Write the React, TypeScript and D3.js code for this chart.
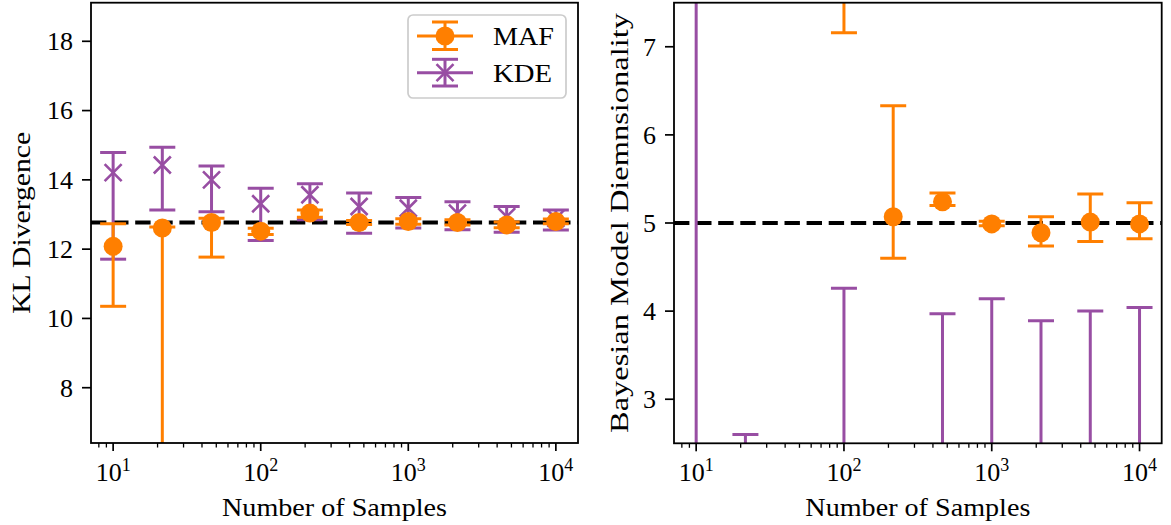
import React from "react";
import * as d3 from "d3";

// ---------- data ----------
const samples = [10, 21.54, 46.42, 100, 215.4, 464.2, 1000, 2154, 4642, 10000];

const klMafMean = [12.08, 12.61, 12.77, 12.52, 13.04, 12.77, 12.8, 12.77, 12.7, 12.8];
const klMafLo = [10.35, 5.0, 11.77, 12.42, 12.92, 12.71, 12.72, 12.7, 12.62, 12.73];
const klMafHi = [12.73, 12.64, 12.89, 12.6, 13.13, 12.83, 12.88, 12.85, 12.78, 12.87];

const klKdeMean = [14.21, 14.43, 14.0, 13.31, 13.57, 13.23, 13.18, 13.04, 12.94, 12.89];
const klKdeLo = [11.71, 13.13, 13.08, 12.25, 12.85, 12.46, 12.61, 12.56, 12.49, 12.55];
const klKdeHi = [14.79, 14.94, 14.4, 13.76, 13.89, 13.62, 13.49, 13.37, 13.23, 13.13];

const bmdMafMean = [9.0, 8.5, 8.2, 8.0, 5.07, 5.24, 4.99, 4.89, 5.01, 4.99];
const bmdMafLo = [8.2, 7.9, 7.8, 7.16, 4.6, 5.2, 4.97, 4.74, 4.79, 4.82];
const bmdMafHi = [9.8, 9.1, 8.6, 8.9, 6.33, 5.34, 5.02, 5.07, 5.33, 5.23];

const bmdKdeMean = [1.2, 1.5, 1.3, 1.6, 1.4, 1.7, 1.8, 1.6, 1.7, 1.8];
const bmdKdeLo = [-6.6, 0.4, 0.4, -1.06, 0.5, -0.57, -0.54, -0.69, -0.6, -0.44];
const bmdKdeHi = [9.0, 2.6, 2.2, 4.26, 2.3, 3.97, 4.14, 3.89, 4.0, 4.04];

const klTicks = [8, 10, 12, 14, 16, 18];
const bmdTicks = [3, 4, 5, 6, 7];
const xMajorExps = [1, 2, 3, 4];

const klTrue = 12.77;
const bmdTrue = 5.0;

const seriesNames = ["MAF", "KDE"];

// ---------- style ----------
const ORANGE = "#ff7f00";
const PURPLE = "#984ea3";
const FONT = "'Liberation Serif', 'Times New Roman', serif";
const FS = 26;

type PanelProps = {
  id: string;
  left: number;
  right: number;
  top: number;
  bottom: number;
  yDomain: [number, number];
  yTicks: number[];
  yLabel: string;
  yLabelX: number;
  yLabelLen: number;
  mafMean: number[];
  mafLo: number[];
  mafHi: number[];
  kdeMean: number[];
  kdeLo: number[];
  kdeHi: number[];
  trueVal: number;
  legend?: boolean;
};

function Panel(p: PanelProps) {
  const x = d3.scaleLog().domain([Math.pow(10, 0.85), Math.pow(10, 4.15)]).range([p.left, p.right]);
  const y = d3.scaleLinear().domain(p.yDomain).range([p.bottom, p.top]);
  const [x0, x1] = x.domain();
  const minor: number[] = [];
  for (let e = 0; e <= 4; e++) {
    for (let m = 2; m <= 9; m++) {
      const v = m * Math.pow(10, e);
      if (v >= x0 && v <= x1) minor.push(v);
    }
  }
  const cap = 13;
  const clipId = `clip-${p.id}`;

  const errBars = (mean: number[], lo: number[], hi: number[], color: string, kind: "o" | "x") => (
    <g>
      {samples.map((s, i) => {
        const cx = x(s);
        return (
          <g key={i}>
            <line x1={cx} x2={cx} y1={y(lo[i])} y2={y(hi[i])} stroke={color} strokeWidth={3} />
            <line x1={cx - cap} x2={cx + cap} y1={y(lo[i])} y2={y(lo[i])} stroke={color} strokeWidth={3} />
            <line x1={cx - cap} x2={cx + cap} y1={y(hi[i])} y2={y(hi[i])} stroke={color} strokeWidth={3} />
            {kind === "o" ? (
              <circle cx={cx} cy={y(mean[i])} r={9.5} fill={color} />
            ) : (
              <path
                d={`M${cx - 8.5},${y(mean[i]) - 8.5}L${cx + 8.5},${y(mean[i]) + 8.5}M${cx - 8.5},${y(mean[i]) + 8.5}L${cx + 8.5},${y(mean[i]) - 8.5}`}
                stroke={color}
                strokeWidth={2.6}
                fill="none"
              />
            )}
          </g>
        );
      })}
    </g>
  );

  const yMid = (p.top + p.bottom) / 2;

  return (
    <g>
      <defs>
        <clipPath id={clipId}>
          <rect x={p.left} y={p.top} width={p.right - p.left} height={p.bottom - p.top} />
        </clipPath>
      </defs>
      <g clipPath={`url(#${clipId})`}>
        <line
          x1={p.left}
          x2={p.right}
          y1={y(p.trueVal)}
          y2={y(p.trueVal)}
          stroke="#000"
          strokeWidth={4}
          strokeDasharray="15.4 6.7"
        />
        {errBars(p.kdeMean, p.kdeLo, p.kdeHi, PURPLE, "x")}
        {errBars(p.mafMean, p.mafLo, p.mafHi, ORANGE, "o")}
      </g>
      {/* x ticks */}
      {minor.map((v) => (
        <line key={`m${v}`} x1={x(v)} x2={x(v)} y1={p.bottom} y2={p.bottom + 4.5} stroke="#000" strokeWidth={1.3} />
      ))}
      {xMajorExps.map((e) => {
        const v = Math.pow(10, e);
        return (
          <g key={`M${e}`}>
            <line x1={x(v)} x2={x(v)} y1={p.bottom} y2={p.bottom + 8} stroke="#000" strokeWidth={1.7} />
            <text x={x(v)} y={481} textAnchor="middle" fontFamily={FONT} fontSize={FS} fill="#000">
              10
              <tspan dy={-10} fontSize={18}>
                {e}
              </tspan>
            </text>
          </g>
        );
      })}
      {/* y ticks */}
      {p.yTicks.map((t) => (
        <g key={`y${t}`}>
          <line x1={p.left - 9} x2={p.left} y1={y(t)} y2={y(t)} stroke="#000" strokeWidth={1.7} />
          <text
            x={p.left - 18}
            y={y(t)}
            dy="0.34em"
            textAnchor="end"
            fontFamily={FONT}
            fontSize={FS}
            fill="#000"
          >
            {t}
          </text>
        </g>
      ))}
      {/* frame */}
      <rect
        x={p.left}
        y={p.top}
        width={p.right - p.left}
        height={p.bottom - p.top}
        fill="none"
        stroke="#000"
        strokeWidth={1.8}
      />
      {/* labels */}
      <text
        x={(p.left + p.right) / 2}
        y={516}
        textAnchor="middle"
        fontFamily={FONT}
        fontSize={FS}
        fill="#000"
        textLength={225}
        lengthAdjust="spacingAndGlyphs"
      >
        Number of Samples
      </text>
      <text
        transform={`translate(${p.yLabelX},${yMid}) rotate(-90)`}
        textAnchor="middle"
        fontFamily={FONT}
        fontSize={FS}
        fill="#000"
        textLength={p.yLabelLen}
        lengthAdjust="spacingAndGlyphs"
      >
        {p.yLabel}
      </text>
      {p.legend && (
        <g>
          <rect x={408} y={15} width={158} height={83} rx={5} fill="#fff" fillOpacity={0.8} stroke="#cccccc" strokeWidth={1.7} />
          {/* MAF */}
          <line x1={417} x2={473} y1={36} y2={36} stroke={ORANGE} strokeWidth={3} />
          <line x1={445} x2={445} y1={22} y2={49.5} stroke={ORANGE} strokeWidth={3} />
          <line x1={432} x2={458} y1={22} y2={22} stroke={ORANGE} strokeWidth={3} />
          <line x1={432} x2={458} y1={49.5} y2={49.5} stroke={ORANGE} strokeWidth={3} />
          <circle cx={445} cy={36} r={9.5} fill={ORANGE} />
          <text x={493} y={45} fontFamily={FONT} fontSize={FS} fill="#000" textLength={61} lengthAdjust="spacingAndGlyphs">
            {seriesNames[0]}
          </text>
          {/* KDE */}
          <line x1={417} x2={473} y1={72.7} y2={72.7} stroke={PURPLE} strokeWidth={3} />
          <line x1={445} x2={445} y1={59.3} y2={86} stroke={PURPLE} strokeWidth={3} />
          <line x1={432} x2={458} y1={59.3} y2={59.3} stroke={PURPLE} strokeWidth={3} />
          <line x1={432} x2={458} y1={86} y2={86} stroke={PURPLE} strokeWidth={3} />
          <path d="M436.5,64.2L453.5,81.2M436.5,81.2L453.5,64.2" stroke={PURPLE} strokeWidth={2.6} fill="none" />
          <text x={493} y={82} fontFamily={FONT} fontSize={FS} fill="#000" textLength={59} lengthAdjust="spacingAndGlyphs">
            {seriesNames[1]}
          </text>
        </g>
      )}
    </g>
  );
}

export default function App() {
  return (
    <svg
      width={1171}
      height={525}
      style={{ position: "absolute", left: 0, top: 0, background: "#fff" }}
      xmlns="http://www.w3.org/2000/svg"
    >
      <rect x={0} y={0} width={1171} height={525} fill="#fff" />
      <Panel
        id="kl"
        left={91}
        right={578}
        top={2.7}
        bottom={443}
        yDomain={[6.404, 19.114]}
        yTicks={klTicks}
        yLabel="KL Divergence"
        yLabelX={30}
        yLabelLen={182}
        mafMean={klMafMean}
        mafLo={klMafLo}
        mafHi={klMafHi}
        kdeMean={klKdeMean}
        kdeLo={klKdeLo}
        kdeHi={klKdeHi}
        trueVal={klTrue}
        legend
      />
      <Panel
        id="bmd"
        left={674}
        right={1161.7}
        top={2.7}
        bottom={443.3}
        yDomain={[2.5, 7.5]}
        yTicks={bmdTicks}
        yLabel="Bayesian Model Diemnsionality"
        yLabelX={628}
        yLabelLen={420}
        mafMean={bmdMafMean}
        mafLo={bmdMafLo}
        mafHi={bmdMafHi}
        kdeMean={bmdKdeMean}
        kdeLo={bmdKdeLo}
        kdeHi={bmdKdeHi}
        trueVal={bmdTrue}
      />
    </svg>
  );
}
